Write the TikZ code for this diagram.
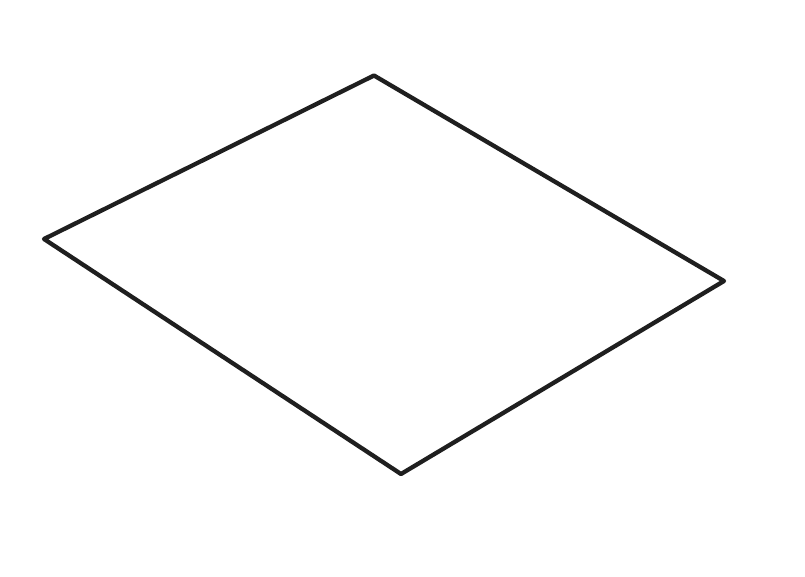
\documentclass[tikz,border=0pt]{standalone}
\begin{document}
\begin{tikzpicture}[x=1pt,y=-1pt]
\useasboundingbox (0,0) rectangle (805,576);
\fill[white] (0,0) rectangle (805,576);
\coordinate (t) at (374,75.5);
\coordinate (l) at (44,239);
\coordinate (b) at (401,474);
\coordinate (r) at (724,281);
\draw[line width=4.3pt, color=black!88, line join=round] (t) -- (r) -- (b) -- (l) -- cycle;
\end{tikzpicture}
\end{document}
